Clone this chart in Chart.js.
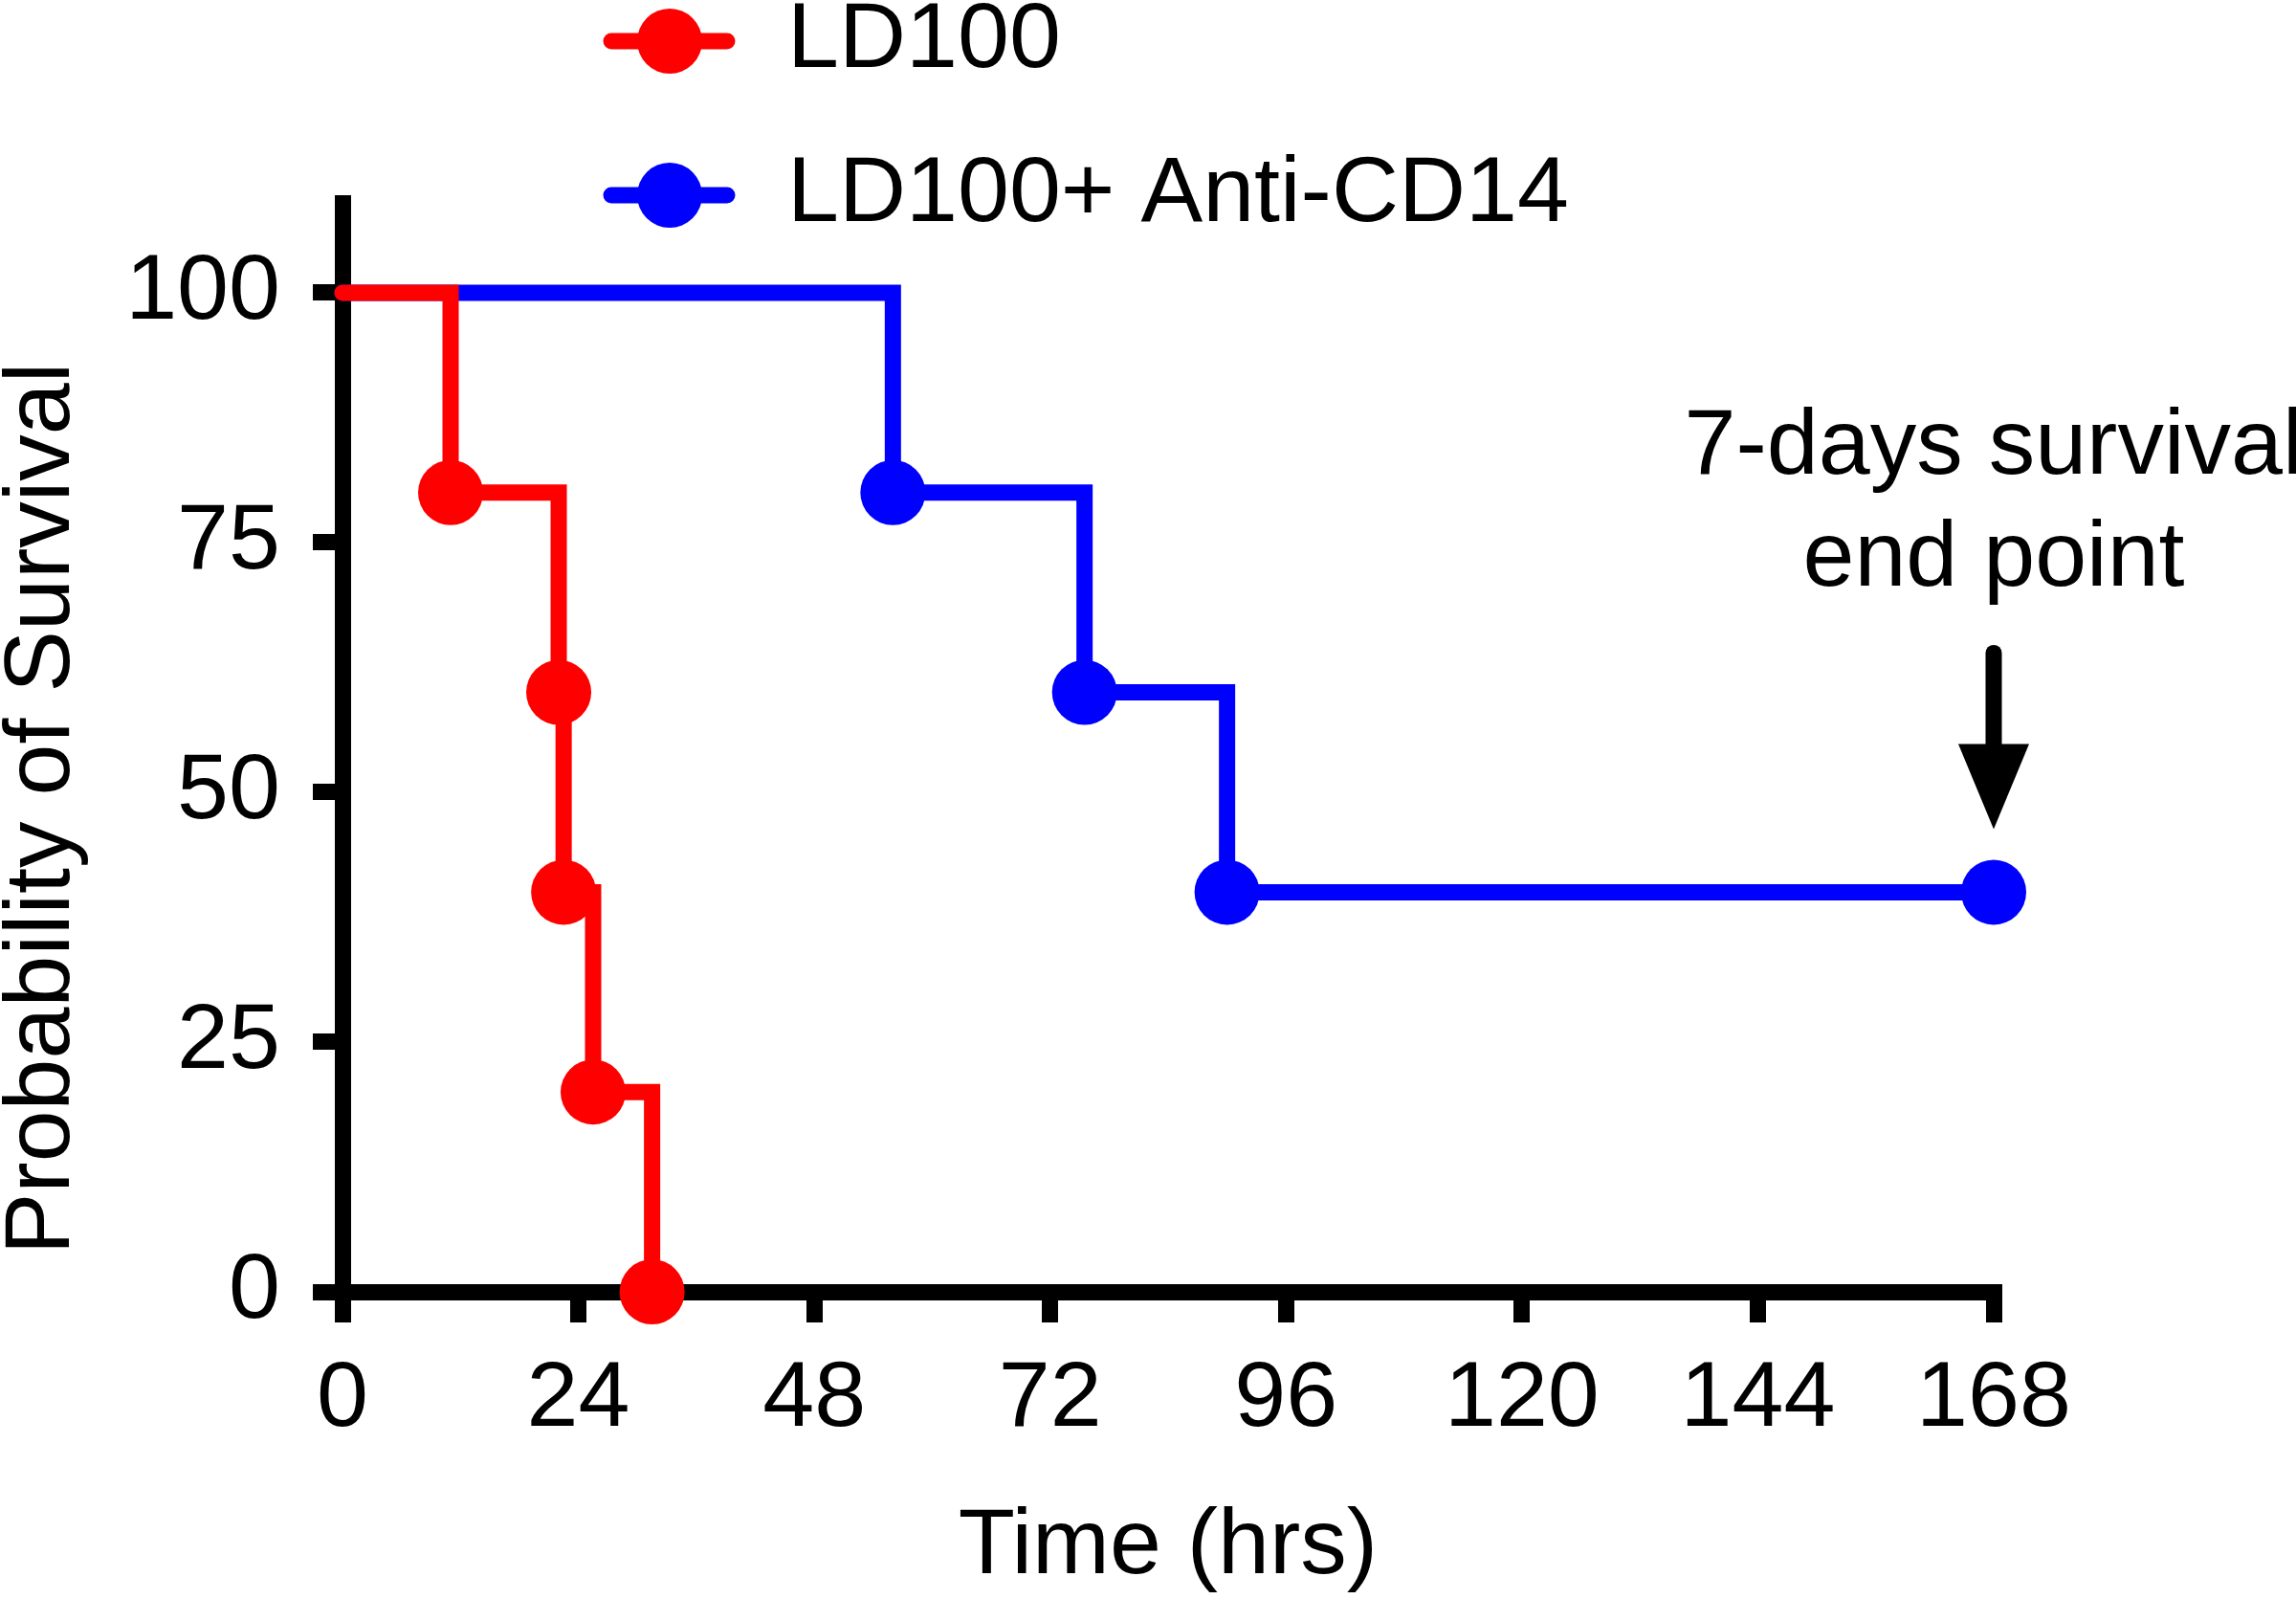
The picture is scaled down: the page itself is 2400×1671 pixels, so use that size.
<!DOCTYPE html>
<html><head><meta charset="utf-8">
<script src="https://cdn.jsdelivr.net/npm/chart.js@4.4.1/dist/chart.umd.min.js"></script>
<style>html,body{margin:0;padding:0;background:#fff;} canvas{display:block;}</style>
</head><body>
<canvas id="c" width="2400" height="1671"></canvas>
<script>
// ---- data ----
const seriesLabels = ['LD100', 'LD100+ Anti-CD14'];
const ld100Hours = [0, 11, 22, 22.5, 25.5, 31.5];
const ld100Survival = [100, 80, 60, 40, 20, 0];
const antiCD14Hours = [0, 56, 75.5, 90, 168];
const antiCD14Survival = [100, 80, 60, 40, 40];
const xTickValues = [0, 24, 48, 72, 96, 120, 144, 168];
const yTickValues = [0, 25, 50, 75, 100];
const xAxisTitle = 'Time (hrs)';
const yAxisTitle = 'Probability of Survival';
const noteLines = ['7-days survival', 'end point'];
const noteHour = 168;
const noteSurvival = 40;

// ---- style ----
const RED = '#FF0000', BLUE = '#0000FF';
const FONT = "'Liberation Sans', Arial, Helvetica, sans-serif";
const FS = 97;

function toPoints(xs, ys) { return xs.map((x, i) => ({x: x, y: ys[i]})); }
function eventRadii(xs) { return xs.map((x, i) => i === 0 ? 0 : 34); }

const extras = {
  id: 'extras',
  afterDatasetsDraw(chart) {
    const ctx = chart.ctx;
    const xs = chart.scales.x, ys = chart.scales.y;
    ctx.save();
    ctx.font = FS + 'px ' + FONT;
    // legend
    const legendY = [43, 204];
    chart.data.datasets.forEach((ds, i) => {
      const y = legendY[i];
      ctx.strokeStyle = ds.borderColor; ctx.lineWidth = 17; ctx.lineCap = 'round';
      ctx.beginPath(); ctx.moveTo(639, y); ctx.lineTo(760, y); ctx.stroke();
      ctx.fillStyle = ds.borderColor;
      ctx.beginPath(); ctx.arc(700, y, 34, 0, Math.PI * 2); ctx.fill();
      ctx.fillStyle = '#000'; ctx.textAlign = 'left'; ctx.textBaseline = 'alphabetic';
      ctx.fillText(ds.label, 823, y + 27);
    });
    // y axis title
    ctx.save();
    ctx.translate(72, 845); ctx.rotate(-Math.PI / 2);
    ctx.fillStyle = '#000'; ctx.textAlign = 'center'; ctx.textBaseline = 'alphabetic';
    ctx.fillText(yAxisTitle, 0, 0);
    ctx.restore();
    // annotation
    const px = xs.getPixelForValue(noteHour), py = ys.getPixelForValue(noteSurvival);
    ctx.fillStyle = '#000'; ctx.textAlign = 'center'; ctx.textBaseline = 'alphabetic';
    ctx.fillText(noteLines[0], px, py - 437);
    ctx.fillText(noteLines[1], px, py - 320);
    ctx.strokeStyle = '#000'; ctx.lineWidth = 17; ctx.lineCap = 'round';
    ctx.beginPath(); ctx.moveTo(px, py - 250); ctx.lineTo(px, py - 150); ctx.stroke();
    ctx.beginPath(); ctx.moveTo(px - 37, py - 155); ctx.lineTo(px + 37, py - 155); ctx.lineTo(px, py - 66); ctx.closePath(); ctx.fill();
    ctx.restore();
  }
};

Chart.defaults.font.family = FONT;
Chart.defaults.font.size = FS;
Chart.defaults.color = '#000';

function lineSet(label, xs, ys, color) {
  return {
    label: label, data: toPoints(xs, ys),
    borderColor: color, backgroundColor: color,
    pointBackgroundColor: color, pointBorderColor: color, pointBorderWidth: 0,
    pointRadius: eventRadii(xs), pointHoverRadius: eventRadii(xs),
    borderWidth: 17, stepped: true, tension: 0, fill: false,
    borderCapStyle: 'round', borderJoinStyle: 'miter', clip: false
  };
}

new Chart(document.getElementById('c'), {
  type: 'line',
  data: { datasets: [
    lineSet(seriesLabels[0], ld100Hours, ld100Survival, RED),
    lineSet(seriesLabels[1], antiCD14Hours, antiCD14Survival, BLUE)
  ]},
  options: {
    responsive: false, animation: false, events: [], devicePixelRatio: 1,
    layout: { padding: { top: 212, right: 316, left: 0, bottom: 0 } },
    plugins: { legend: { display: false }, tooltip: { enabled: false } },
    scales: {
      x: {
        type: 'linear', min: 0, max: 168,
        afterBuildTicks: s => { s.ticks = xTickValues.map(v => ({value: v})); },
        afterFit: s => { s.height = 321; },
        border: { display: true, color: '#000', width: 17 },
        grid: { drawOnChartArea: false, drawTicks: true, tickLength: 32, tickWidth: 17, tickColor: '#000', lineWidth: 17, color: '#000' },
        ticks: { color: '#000', font: { size: FS, family: FONT }, padding: 23, autoSkip: false, maxRotation: 0 },
        title: { display: true, text: xAxisTitle, color: '#000', font: { size: FS, family: FONT }, padding: { top: 0, bottom: -4 } }
      },
      y: {
        type: 'linear', min: 0, max: 109,
        afterBuildTicks: s => { s.ticks = yTickValues.map(v => ({value: v})); },
        afterFit: s => { s.width = 358; },
        border: { display: true, color: '#000', width: 17 },
        grid: { drawOnChartArea: false, drawTicks: true, tickLength: 31, tickWidth: 17, tickColor: '#000', lineWidth: 17, color: '#000' },
        ticks: { color: '#000', font: { size: FS, family: FONT }, padding: 34, autoSkip: false },
        title: { display: false }
      }
    }
  },
  plugins: [extras]
});
</script>
</body></html>
